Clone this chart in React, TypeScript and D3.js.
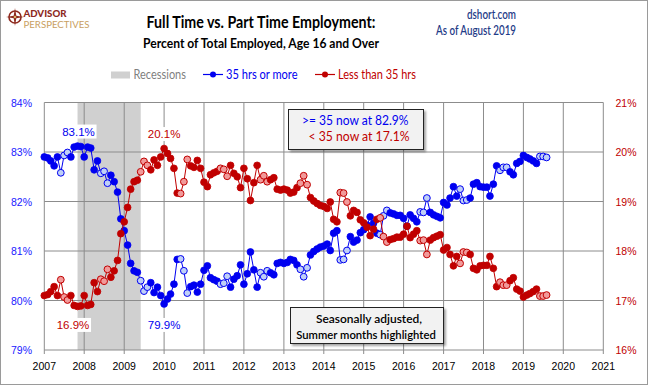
import React from "react";
import * as d3 from "d3";

// ---- data ----
const yearTicks = [2007, 2008, 2009, 2010, 2011, 2012, 2013, 2014, 2015, 2016, 2017, 2018, 2019, 2020, 2021];
const leftTicks = [79, 80, 81, 82, 83, 84];
const rightTicks = [16, 17, 18, 19, 20, 21];
const firstYear = 2007;
const summerMonths = [5, 6, 7]; // June, July, August (0-based)
const recessionStart = [2007, 10];
const recessionEnd = [2009, 5];

// 35 hrs or more (% of total employed), monthly Jan 2007 - Aug 2019
const fullTime = [
  82.90, 82.88, 82.82, 82.72, 82.90, 82.58, 82.93, 82.99, 82.90, 83.10, 83.12, 83.11,
  82.90, 83.10, 83.08, 82.64, 82.82, 82.57, 82.61, 82.37, 82.53, 82.40, 82.19, 81.65,
  81.41, 81.12, 80.75, 80.60, 80.57, 80.40, 80.19, 80.27, 80.36, 80.16, 80.27, 80.10,
  79.93, 80.03, 80.13, 80.33, 80.83, 80.84, 80.60, 80.15, 80.28, 80.31, 80.17, 80.33,
  80.61, 80.70, 80.46, 80.42, 80.39, 80.33, 80.35, 80.49, 80.27, 80.43, 80.50, 80.72,
  80.33, 80.54, 80.98, 80.62, 80.27, 80.56, 80.48, 80.60, 80.56, 80.52, 80.75, 80.77,
  80.75, 80.77, 80.83, 80.81, 80.72, 80.63, 80.48, 80.66, 80.92, 80.99, 81.04, 81.08,
  81.10, 81.14, 81.01, 81.36, 81.41, 80.82, 80.83, 81.01, 81.29, 81.18, 81.22, 81.37,
  81.43, 81.52, 81.69, 81.56, 81.36, 81.33, 81.71, 81.82, 81.77, 81.75, 81.72, 81.72,
  81.66, 81.50, 81.73, 81.66, 81.59, 81.79, 81.78, 82.07, 81.78, 81.73, 81.70, 81.67,
  81.98, 81.93, 82.07, 82.30, 82.11, 82.25, 82.02, 82.03, 82.07, 82.35, 82.38, 82.30,
  82.29, 82.29, 82.11, 82.35, 82.72, 82.63, 82.69, 82.69, 82.60, 82.54, 82.77, 82.81,
  82.93, 82.89, 82.86, 82.82, 82.77, 82.91, 82.91, 82.89,
];

// Less than 35 hrs (% of total employed), monthly Jan 2007 - Aug 2019
const partTime = [
  17.10, 17.12, 17.18, 17.28, 17.10, 17.42, 17.07, 17.01, 17.10, 16.90, 16.88, 16.89,
  17.10, 16.90, 16.92, 17.36, 17.18, 17.43, 17.39, 17.63, 17.47, 17.60, 17.81, 18.35,
  18.59, 18.88, 19.25, 19.40, 19.43, 19.60, 19.81, 19.73, 19.64, 19.84, 19.73, 19.90,
  20.07, 19.97, 19.87, 19.67, 19.17, 19.16, 19.40, 19.85, 19.72, 19.69, 19.83, 19.67,
  19.39, 19.30, 19.54, 19.58, 19.61, 19.67, 19.65, 19.51, 19.73, 19.57, 19.50, 19.28,
  19.67, 19.46, 19.02, 19.38, 19.73, 19.44, 19.52, 19.40, 19.44, 19.48, 19.25, 19.23,
  19.25, 19.23, 19.17, 19.19, 19.28, 19.37, 19.52, 19.34, 19.08, 19.01, 18.96, 18.92,
  18.90, 18.86, 18.99, 18.64, 18.59, 19.18, 19.17, 18.99, 18.71, 18.82, 18.78, 18.63,
  18.57, 18.48, 18.31, 18.44, 18.64, 18.67, 18.29, 18.18, 18.23, 18.25, 18.28, 18.28,
  18.34, 18.50, 18.27, 18.34, 18.41, 18.21, 18.22, 17.93, 18.22, 18.27, 18.30, 18.33,
  18.02, 18.07, 17.93, 17.70, 17.89, 17.75, 17.98, 17.97, 17.93, 17.65, 17.62, 17.70,
  17.71, 17.71, 17.89, 17.65, 17.28, 17.37, 17.31, 17.31, 17.40, 17.46, 17.23, 17.19,
  17.07, 17.11, 17.14, 17.18, 17.23, 17.09, 17.09, 17.11,
];

const W = 648;
const H = 385;
const BLUE = "#0000f0";
const RED = "#c00000";
const BLUE_LIGHT = "#bfcff7";
const RED_LIGHT = "#f19a9a";
const GRID = "#8c8c8c";
const TXT = "Lato, 'Open Sans', sans-serif";
const AX = "'Liberation Sans', Arial, sans-serif";

type Pt = { date: Date; v: number; summer: boolean; i: number };

function toPoints(arr: number[]): Pt[] {
  return arr.map((v, i) => {
    const date = new Date(firstYear, i, 1);
    return { date, v, summer: summerMonths.includes(date.getMonth()), i };
  });
}

export default function App() {
  const x = d3
    .scaleTime()
    .domain([new Date(yearTicks[0], 0, 1), new Date(yearTicks[yearTicks.length - 1], 0, 1)])
    .range([44.3, 603.3]);
  const yL = d3.scaleLinear().domain([79, 84]).range([350, 102.5]);
  const yR = d3.scaleLinear().domain([16, 21]).range([350, 102.5]);

  const ft = toPoints(fullTime);
  const pt = toPoints(partTime);

  const lineL = d3.line<Pt>().x((d) => x(d.date)).y((d) => yL(d.v));
  const lineR = d3.line<Pt>().x((d) => x(d.date)).y((d) => yR(d.v));

  const recX0 = x(new Date(recessionStart[0], recessionStart[1], 1));
  const recX1 = x(new Date(recessionEnd[0], recessionEnd[1], 1));

  const ftMax = ft.reduce((a, b) => (b.v > a.v ? b : a));
  const ftMin = ft.reduce((a, b) => (b.v < a.v ? b : a));
  const ptMax = pt.reduce((a, b) => (b.v > a.v ? b : a));
  const ptMin = pt.reduce((a, b) => (b.v < a.v ? b : a));
  const ftLast = ft[ft.length - 1];
  const ptLast = pt[pt.length - 1];

  const label = (txt: string, cx: number, by: number, color: string, key: string) => (
    <g key={key}>
      <rect x={cx - 18} y={by - 11} width={36} height={14} fill="#fff" />
      <text x={cx} y={by} textAnchor="middle" fontFamily={AX} fontSize={11.5} fill={color}>
        {txt}
      </text>
    </g>
  );

  const marker = (d: Pt, fy: (v: number) => number, col: string, light: string, key: string) => (
    <circle
      key={key}
      cx={x(d.date)}
      cy={fy(d.v)}
      r={3.4}
      fill={d.summer ? light : col}
      stroke={col}
      strokeWidth={d.summer ? 1 : 0.8}
    />
  );

  return (
    <div style={{ position: "absolute", left: 0, top: 0 }}>
      <svg width={W} height={H} viewBox={`0 0 ${W} ${H}`} style={{ display: "block" }}>
        <defs>
          <filter id="shadow" x="-10%" y="-10%" width="130%" height="140%">
            <feDropShadow dx="2" dy="2" stdDeviation="1.2" floodColor="#000" floodOpacity="0.35" />
          </filter>
        </defs>
        <rect x={0} y={0} width={W} height={H} fill="#fff" />
        <rect x={0.5} y={0.5} width={W - 1} height={H - 1} fill="none" stroke="#9a9a9a" />

        {/* logo */}
        <g>
          <circle cx={15} cy={17} r={6} fill="none" stroke="#8e2a1e" strokeWidth={1.6} />
          <path d="M15 8 L16.3 15.7 L24 17 L16.3 18.3 L15 26 L13.7 18.3 L6 17 L13.7 15.7 Z" fill="#8e2a1e" />
          <circle cx={15} cy={17} r={1.3} fill="#d9b26a" />
          <text x={23.5} y={16.5} fontFamily={TXT} fontWeight={900} fontSize={9} fill="#8e2a1e" textLength={43} lengthAdjust="spacingAndGlyphs">
            ADVISOR
          </text>
          <text x={23.5} y={28} fontFamily={TXT} fontWeight={400} fontSize={10} fill="#c9a061" textLength={66} lengthAdjust="spacingAndGlyphs">
            PERSPECTIVES
          </text>
        </g>

        {/* titles */}
        <text x={261} y={27.5} textAnchor="middle" fontFamily={TXT} fontWeight={700} fontSize={17} fill="#000" textLength={229} lengthAdjust="spacingAndGlyphs">
          Full Time vs. Part Time Employment:
        </text>
        <text x={261} y={47.5} textAnchor="middle" fontFamily={TXT} fontWeight={700} fontSize={14} fill="#000" textLength={236} lengthAdjust="spacingAndGlyphs">
          Percent of Total Employed, Age 16 and Over
        </text>
        <text x={516} y={18.5} textAnchor="end" fontFamily={TXT} fontWeight={600} fontSize={12.5} fill="#1f3c88" textLength={49} lengthAdjust="spacingAndGlyphs">
          dshort.com
        </text>
        <text x={516} y={34.5} textAnchor="end" fontFamily={TXT} fontWeight={600} fontSize={12.5} fill="#1f3c88" textLength={80} lengthAdjust="spacingAndGlyphs">
          As of August 2019
        </text>

        {/* legend */}
        <g>
          <rect x={111} y={71.5} width={19} height={7} fill="#d0d0d0" />
          <text x={133.5} y={79} fontFamily={TXT} fontSize={13.5} fill="#7f7f7f" textLength={52.5} lengthAdjust="spacingAndGlyphs">
            Recessions
          </text>
          <line x1={203} x2={223} y1={74.5} y2={74.5} stroke={BLUE} strokeWidth={1.2} />
          <circle cx={213} cy={74.5} r={3} fill={BLUE} />
          <text x={226} y={79} fontFamily={TXT} fontSize={13.5} fill={BLUE} textLength={71.5} lengthAdjust="spacingAndGlyphs">
            35 hrs or more
          </text>
          <line x1={315} x2={335} y1={74.5} y2={74.5} stroke={RED} strokeWidth={1.2} />
          <circle cx={325} cy={74.5} r={3} fill={RED} />
          <text x={338} y={79} fontFamily={TXT} fontSize={13.5} fill={RED} textLength={78} lengthAdjust="spacingAndGlyphs">
            Less than 35 hrs
          </text>
        </g>

        {/* recession shading */}
        <rect x={recX0} y={yL(84)} width={recX1 - recX0} height={yL(79) - yL(84)} fill="#d0d0d0" />

        {/* gridlines */}
        {leftTicks.map((t) => (
          <line key={"h" + t} x1={x.range()[0]} x2={x.range()[1]} y1={yL(t)} y2={yL(t)} stroke={GRID} strokeWidth={1} />
        ))}
        {yearTicks.map((yr) => (
          <line
            key={"v" + yr}
            x1={x(new Date(yr, 0, 1))}
            x2={x(new Date(yr, 0, 1))}
            y1={yL(84)}
            y2={yL(79) + 4}
            stroke={GRID}
            strokeWidth={1}
          />
        ))}

        {/* axis labels */}
        {leftTicks.map((t) => (
          <text key={"l" + t} x={32} y={yL(t) + 4} textAnchor="end" fontFamily={AX} fontSize={10.5} fill="#2020ff">
            {t}%
          </text>
        ))}
        {rightTicks.map((t) => (
          <text key={"r" + t} x={615.5} y={yR(t) + 4} textAnchor="start" fontFamily={AX} fontSize={10.5} fill={RED}>
            {t}%
          </text>
        ))}
        {yearTicks.map((yr) => (
          <text key={"x" + yr} x={x(new Date(yr, 0, 1))} y={370} textAnchor="middle" fontFamily={AX} fontSize={10.5} fill="#000">
            {yr}
          </text>
        ))}

        {/* series */}
        <path d={lineL(ft) || ""} fill="none" stroke={BLUE} strokeWidth={1} />
        {ft.map((d) => marker(d, yL, BLUE, BLUE_LIGHT, "b" + d.i))}
        <path d={lineR(pt) || ""} fill="none" stroke={RED} strokeWidth={1} />
        {pt.map((d) => marker(d, yR, RED, RED_LIGHT, "r" + d.i))}

        {/* extreme labels */}
        {label(`${ftMax.v.toFixed(1)}%`, x(ftMax.date) + 1, yL(ftMax.v) - 10.5, BLUE, "lmax")}
        {label(`${ptMin.v.toFixed(1)}%`, x(ptMin.date) - 4.5, yR(ptMin.v) + 22.5, RED, "lmin")}
        {label(`${ptMax.v.toFixed(1)}%`, x(ptMax.date), yR(ptMax.v) - 10.5, RED, "rmax")}
        {label(`${ftMin.v.toFixed(1)}%`, x(ftMin.date), yL(ftMin.v) + 25, BLUE, "rmin")}

        {/* current value box */}
        <g>
          <rect x={288.5} y={109.5} width={135} height={40} fill="#f2f2f2" stroke="#222" strokeWidth={1} filter="url(#shadow)" />
          <text x={408.5} y={125} textAnchor="end" fontFamily={TXT} fontSize={12.5} fill={BLUE} textLength={106.5} lengthAdjust="spacingAndGlyphs">
            {`>= 35 now at ${ftLast.v.toFixed(1)}%`}
          </text>
          <text x={409.5} y={140.5} textAnchor="end" fontFamily={TXT} fontSize={12.5} fill={RED} textLength={101} lengthAdjust="spacingAndGlyphs">
            {`< 35 now at ${ptLast.v.toFixed(1)}%`}
          </text>
        </g>

        {/* note box */}
        <g>
          <rect x={290.5} y={307.5} width={153} height={36} fill="#f2f2f2" stroke="#222" strokeWidth={1} filter="url(#shadow)" />
          <text x={369} y={323} textAnchor="middle" fontFamily={TXT} fontWeight={600} fontSize={12} fill="#000" textLength={106} lengthAdjust="spacingAndGlyphs">
            Seasonally adjusted,
          </text>
          <text x={366} y={338.5} textAnchor="middle" fontFamily={TXT} fontWeight={600} fontSize={12} fill="#000" textLength={139.5} lengthAdjust="spacingAndGlyphs">
            Summer months highlighted
          </text>
        </g>
      </svg>
    </div>
  );
}
